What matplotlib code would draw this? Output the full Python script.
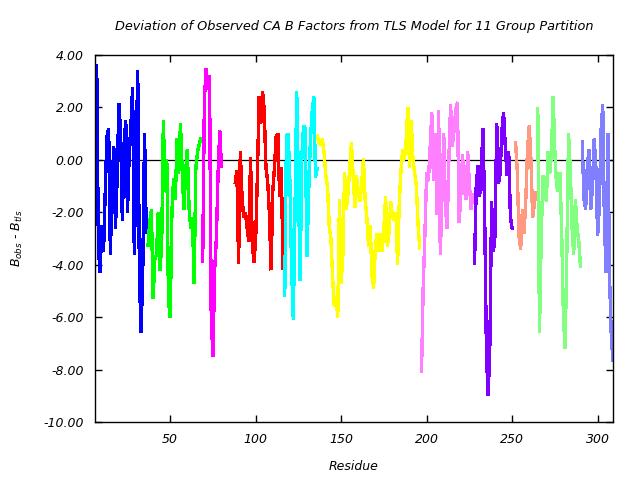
import matplotlib
matplotlib.use('Agg')
import matplotlib.pyplot as plt
import numpy as np

plt.rcParams['axes.unicode_minus'] = False
plt.rcParams['font.family'] = 'DejaVu Sans'

# first residue of each TLS group and its B_obs - B_tls values
blue_start = 6
blue = [-0.6, 3.65, -3.4, -4.3, -2.5, -3.5, -1.2, 0.9, 1.2, -3.6, -1.0, 0.5,
        -2.6, -0.6, 2.15, 1.0, -2.3, 0.6, 1.5, -2.0, 0.2, 1.3, 2.75, -3.6,
        -0.2, 3.4, -4.5, -6.6, -4.0, 1.0, -2.8]

green_start = 37
green = [-3.3, -2.4, -1.9, -5.3, -3.8, -3.6, -2.0, -4.2, -3.3, 1.5, -1.2,
         0.0, -5.4, -6.0, -2.0, -0.7, -1.5, 0.8, -0.5, 1.4, -0.4, -1.9, -0.5,
         0.4, -1.8, -2.6, -2.2, -4.7, -0.3, 0.3, 0.6, 0.85]

magenta_start = 69
magenta = [-3.9, 2.3, 3.5, 2.7, 3.2, -6.0, -7.5, -4.2, -3.0, -0.5, 1.1, -0.3]

red_start = 88
red = [-0.9, -0.4, -3.95, 0.3, -1.4, -2.2, -2.0, -2.6, -3.1, 0.1, -3.2, -3.9,
       -3.0, -0.6, 2.4, 1.4, 2.6, 1.9, -0.3, -0.8, -2.0, -4.2, -1.2, -0.3,
       0.9, 1.0, -1.4, -0.3, -4.2]

cyan_start = 117
cyan = [-5.2, 0.9, 1.0, -0.8, -4.1, -6.1, -1.9, 2.6, -0.9, -4.6, 0.1, 1.3,
        1.2, -3.7, -1.2, 0.75, 1.8, 2.4, -0.66, -0.3]

yellow_start = 136
yellow = [0.95, 0.65, 0.6, 0.8, 0.3, -0.6, -1.0, -2.5, -3.0, -4.5, -5.6, -5.2,
          -6.0, -1.5, -4.7, -3.6, -0.5, -1.9, -1.3, -0.3, 0.65, -0.6, -1.8,
          -0.6, -1.2, -1.6, -0.9, 0.05, -1.5, -2.2, -3.3, -2.5, -4.4, -4.9,
          -3.3, -2.8, -3.5, -2.8, -3.5, -2.6, -1.4, -3.3, -2.8, -1.6, -2.1,
          -2.3, -2.0, -4.0, -1.6, -0.4, 0.4, 0.0, 0.75, 2.0, -0.3, 1.5, 0.0,
          -0.5, -1.0, -2.5, -3.4]

pink_start = 197
pink = [-8.1, -4.8, -2.8, -0.5, -0.8, 0.4, 1.8, -0.8, 1.0, -2.1, 1.9, -3.6,
        -1.3, 1.0, -1.8, -2.6, 0.0, 2.1, 0.5, 1.1, 1.9, 2.2, -2.4, -1.3, 0.2,
        -1.1, -1.5, 0.3, -0.9, -1.9, -1.3]

purple_start = 228
purple = [-4.0, -1.0, -0.2, -1.4, -0.2, 1.2, -2.4, -7.5, -9.0, -7.0, -1.6,
          -3.5, -2.9, 1.4, -0.9, -0.5, 1.1, 1.8, 0.5, -0.6, 0.3, -2.2, -2.6,
          -2.6]

salmon_start = 252
salmon = [0.7, -0.4, -2.9, -3.4, -1.9, -2.8, -1.5, 0.4, 1.3, 0.0, -2.2, -1.7,
          -1.2]

lgreen_start = 265
lgreen = [2.0, -6.6, -3.0, -0.6, -1.0, -1.6, 0.3, -0.5, 0.2, 2.4, 0.3, -1.0,
          -1.2, -0.5, -2.8, -6.0, -7.2, -3.5, 1.0, -0.3, -2.5, -3.6, -1.5,
          -2.6, -3.1, -4.1]

lblue_start = 291
lblue = [0.75, -1.5, -1.9, -0.2, 0.4, -1.9, -1.0, 0.8, -0.3, -2.9, -1.8, 1.1,
         2.1, -2.5, -4.3, 1.0, -4.5, -6.7, -7.7]

groups = [(blue_start, blue, '#0000ff'), (green_start, green, '#00ff00'),
          (magenta_start, magenta, '#ff00ff'), (red_start, red, '#ff0000'),
          (cyan_start, cyan, '#00ffff'), (yellow_start, yellow, '#ffff00'),
          (pink_start, pink, '#ff80ff'), (purple_start, purple, '#8000ff'),
          (salmon_start, salmon, '#ff9980'), (lgreen_start, lgreen, '#80ff80'),
          (lblue_start, lblue, '#8080ff')]

fig = plt.figure(figsize=(6.4, 4.8), dpi=100)
ax = fig.add_axes([0.1484, 0.1208, 0.8094, 0.7646])

ax.axhline(0, color='k', linewidth=0.9, zorder=1)
for start, vals, col in groups:
    res = np.arange(start, start + len(vals))
    ax.plot(res, vals, color=col, linewidth=1.7, zorder=2, antialiased=False,
            solid_joinstyle='miter', solid_capstyle='butt')

ax.set_xlim(6, 309)
ax.set_ylim(-10, 4)
ax.set_xticks(np.arange(50, 301, 50))
ax.set_yticks(np.arange(-10, 4.1, 2))
ax.set_yticklabels(['%.2f' % v for v in np.arange(-10, 4.1, 2)])
ax.tick_params(direction='in', top=True, right=True, length=5, width=1,
               labelsize=9, pad=8)
for lab in ax.get_xticklabels() + ax.get_yticklabels():
    lab.set_fontstyle('italic')
for sp in ax.spines.values():
    sp.set_linewidth(1.0)

ax.set_title('Deviation of Observed CA B Factors from TLS Model for 11 Group Partition',
             fontsize=9.3, style='italic', pad=18)
ax.set_xlabel('Residue', fontsize=9, style='italic', labelpad=10)
ax.set_ylabel('$B_{obs}$ - $B_{tls}$', fontsize=9, style='italic', labelpad=13)

fig.savefig('out.png', dpi=100)
